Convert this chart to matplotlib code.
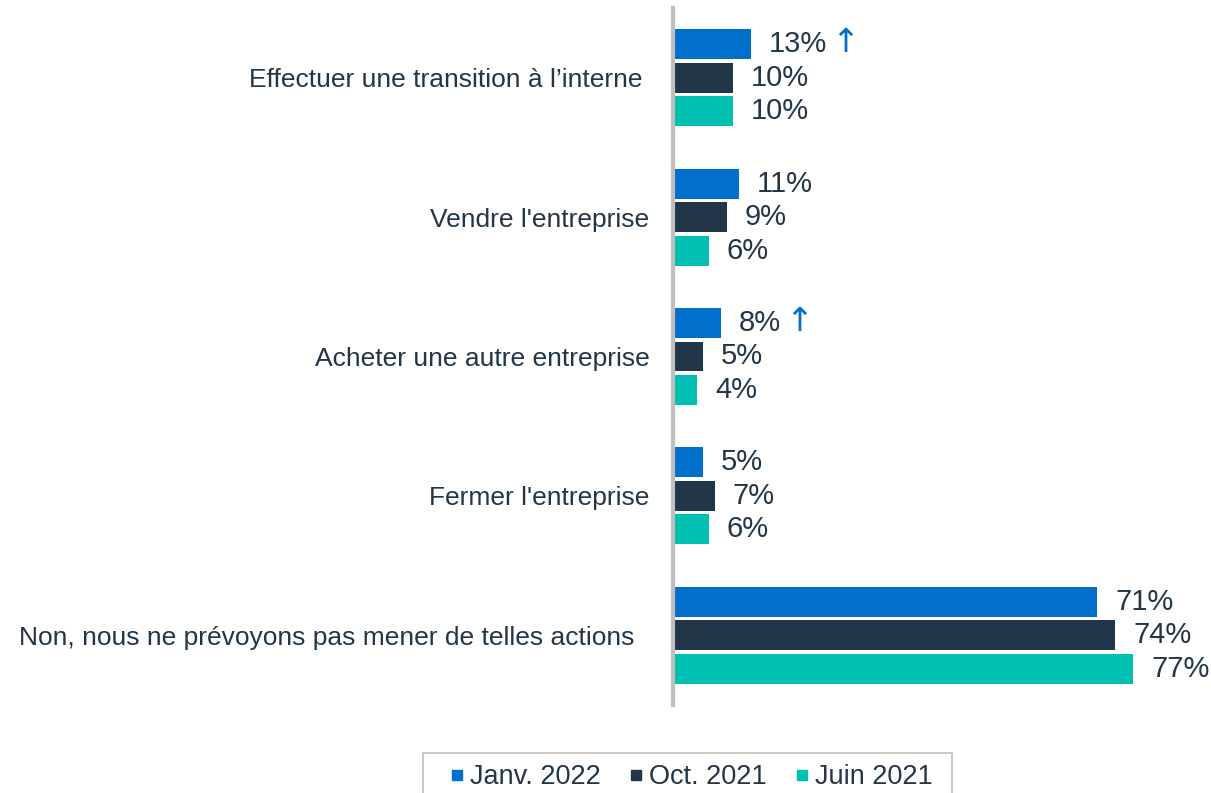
import matplotlib
matplotlib.use("Agg")
import matplotlib.pyplot as plt
from matplotlib.lines import Line2D
from matplotlib.patches import Rectangle
import numpy as np

plt.rcParams['font.family'] = ['Liberation Sans', 'DejaVu Sans']

# data
categories = [
    "Effectuer une transition à l\u2019interne ",
    "Vendre l'entreprise",
    "Acheter une autre entreprise",
    "Fermer l'entreprise",
    "Non, nous ne prévoyons pas mener de telles actions  ",
]
series_names = ["Janv. 2022", "Oct. 2021", "Juin 2021"]
janv_2022 = [13, 11, 8, 5, 71]
oct_2021 = [10, 9, 5, 7, 74]
juin_2021 = [10, 6, 4, 6, 77]
# categories where Janv. 2022 shows an upward arrow
arrow_flags = [True, False, True, False, False]

colors = ["#0070CC", "#22364A", "#00BFB3"]
text_color = "#22364A"

fig = plt.figure(figsize=(12.11, 7.93), dpi=100)
ax = fig.add_axes([673 / 1211, 1 - 705 / 793, 1 - 673 / 1211, (705 - 8) / 793])

y = np.arange(len(categories))
offsets = [-0.24, 0.0, 0.24]
height = 0.215

all_series = [janv_2022, oct_2021, juin_2021]
for s, (vals, col, off) in enumerate(zip(all_series, colors, offsets)):
    bars = ax.barh(y + off, vals, height=height, color=col, zorder=2)
    for i, (b, v) in enumerate(zip(bars, vals)):
        t = ax.annotate(f"{v}%", xy=(v, y[i] + off), xytext=(13, 0),
                        textcoords="offset points", va="center", ha="left",
                        fontsize=21, color=text_color)
        if s == 0 and arrow_flags[i]:
            ax.annotate("\u2191", xy=(1, 0.5), xycoords=t, xytext=(3, 1),
                        textcoords="offset points", va="center", ha="left",
                        fontsize=24, color=colors[0], family="DejaVu Sans")

ax.set_xlim(0, 90)
ax.set_ylim(4.5, -0.5)

for side in ["top", "right", "bottom"]:
    ax.spines[side].set_visible(False)
ax.spines["left"].set_color("#BFBFBF")
ax.spines["left"].set_linewidth(3)
ax.spines["left"].set_zorder(3)

ax.set_yticks(y)
ax.set_yticklabels(categories, fontsize=19, color=text_color)
ax.tick_params(axis="y", length=0, pad=17)
ax.set_xticks([])

# legend frame drawn separately (wider padding than the legend's own)
fig.patches.append(Rectangle((423 / 1211, -0.02), (952 - 423) / 1211,
                             1 - 753 / 793 + 0.02, transform=fig.transFigure,
                             facecolor="white", edgecolor="#BFBFBF",
                             linewidth=1.2))

handles = [Line2D([], [], marker="s", linestyle="none", markersize=7, color=c)
           for c in colors]
leg = fig.legend(handles, series_names, loc="center",
                 bbox_to_anchor=(691 / 1211, 1 - 777 / 793), ncol=3,
                 fontsize=19.5, frameon=False,
                 handletextpad=0.2, columnspacing=1.03, handlelength=0.55,
                 borderpad=0, labelcolor=text_color)

fig.savefig("out.png", dpi=100)
